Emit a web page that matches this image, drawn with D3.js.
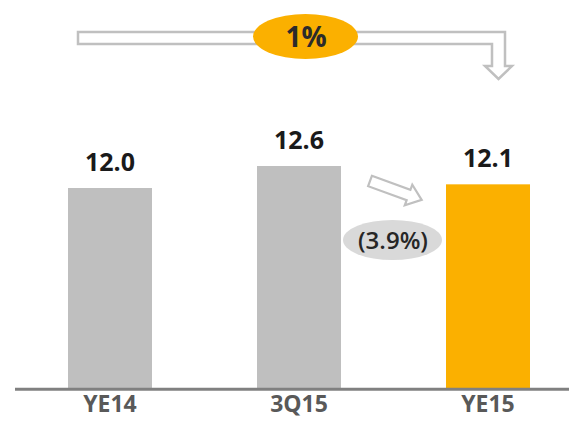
<!DOCTYPE html>
<html>
<head>
<meta charset="utf-8">
<script src="https://cdn.jsdelivr.net/npm/d3@7"></script>
<style>
  html, body { margin: 0; padding: 0; background: #fff; }
  svg { display: block; }
  text { font-family: "Open Sans", "Noto Sans", sans-serif; }
</style>
</head>
<body>
<svg id="chart" width="569" height="425"></svg>
<script>
const categories = ["YE14", "3Q15", "YE15"];
const values = [12.0, 12.6, 12.1];
const valueLabels = ["12.0", "12.6", "12.1"];
const barColors = ["#bfbfbf", "#bfbfbf", "#fbb000"];
const totalChangeLabel = "1%";
const quarterChangeLabel = "(3.9%)";

const svg = d3.select("#chart");
const baseY = 388;

const x = d3.scaleBand()
  .domain(categories)
  .range([68, 530])
  .paddingInner(105 / 189)
  .paddingOuter(0);

const y = d3.scaleLinear()
  .domain([6.545, 12.6])
  .range([baseY, 166]);

// bars
svg.append("g").selectAll("rect")
  .data(categories)
  .join("rect")
  .attr("x", d => x(d))
  .attr("y", (d, i) => y(values[i]))
  .attr("width", x.bandwidth())
  .attr("height", (d, i) => baseY - y(values[i]))
  .attr("fill", (d, i) => barColors[i]);

// value labels
svg.append("g").selectAll("text")
  .data(categories)
  .join("text")
  .attr("x", d => x(d) + x.bandwidth() / 2)
  .attr("y", (d, i) => y(values[i]) - 17)
  .attr("text-anchor", "middle")
  .attr("font-size", 25)
  .attr("font-weight", 700)
  .attr("fill", "#1a1a1a")
  .text((d, i) => valueLabels[i]);

// axis line
svg.append("line")
  .attr("x1", 15).attr("x2", 569)
  .attr("y1", baseY + 1.3).attr("y2", baseY + 1.3)
  .attr("stroke", "#808080")
  .attr("stroke-width", 3);

// category axis
const xAxis = svg.append("g")
  .attr("transform", `translate(0,${baseY})`)
  .call(d3.axisBottom(x).tickSize(0).tickPadding(8));
xAxis.select(".domain").remove();
xAxis.selectAll("text")
  .attr("font-size", 23)
  .attr("font-weight", 700)
  .attr("fill", "#595959")
  .style("font-family", "'Open Sans', 'Noto Sans', sans-serif");

// top bent arrow (outline)
svg.append("path")
  .attr("d", "M78,32 H505 V66 H512 L498.5,79 L485,66 H492 V44 H78 Z")
  .attr("fill", "#fff")
  .attr("stroke", "#c0c0c0")
  .attr("stroke-width", 2.5)
  .attr("stroke-linejoin", "miter");

svg.append("ellipse")
  .attr("cx", 305.5).attr("cy", 36.5)
  .attr("rx", 52.5).attr("ry", 22.5)
  .attr("fill", "#fbb000");
svg.append("text")
  .attr("x", 306).attr("y", 46.5)
  .attr("text-anchor", "middle")
  .attr("font-size", 28)
  .attr("font-weight", 700)
  .attr("fill", "#2b2b2b")
  .text(totalChangeLabel);

// small block arrow
const len = 55, sh = 5.5, hh = 11, hl = 14;
const arrowPts = [[0, -sh], [len - hl, -sh], [len - hl, -hh], [len, 0], [len - hl, hh], [len - hl, sh], [0, sh]];
svg.append("path")
  .attr("d", "M" + arrowPts.map(p => p.join(",")).join("L") + "Z")
  .attr("transform", "translate(370,181) rotate(20)")
  .attr("fill", "#fff")
  .attr("stroke", "#c0c0c0")
  .attr("stroke-width", 2.2);

svg.append("ellipse")
  .attr("cx", 392.5).attr("cy", 240)
  .attr("rx", 49.5).attr("ry", 20)
  .attr("fill", "#d9d9d9");
svg.append("text")
  .attr("x", 393).attr("y", 248.5)
  .attr("text-anchor", "middle")
  .attr("font-size", 24)
  .attr("font-weight", 600)
  .attr("fill", "#262626")
  .text(quarterChangeLabel);
</script>
</body>
</html>
